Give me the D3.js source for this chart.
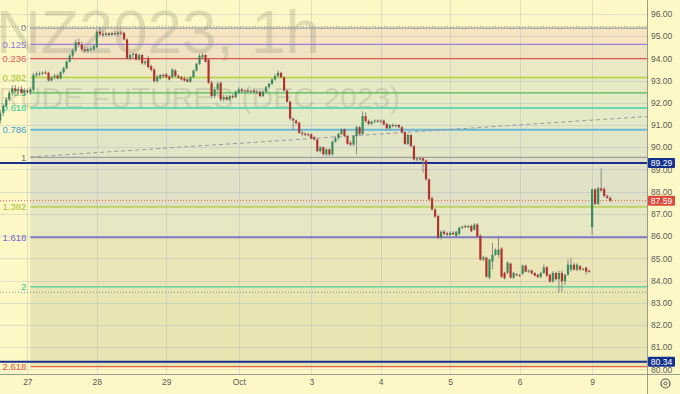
<!DOCTYPE html>
<html>
<head>
<meta charset="utf-8">
<script src="https://cdn.jsdelivr.net/npm/d3@7"></script>
<style>
  html, body { margin: 0; padding: 0; background: #fdf8c5; }
  svg { display: block; font-family: "Liberation Sans", Arial, sans-serif; }
</style>
</head>
<body>
<svg id="chart"></svg>
<script>
// hourly candles, [open, high, low, close], Sep 26 (tail) .. Oct 9
const bars = [
  [91.20,91.70,91.05,91.55],[91.55,91.95,91.40,91.85],[91.85,92.25,91.75,92.15],[92.15,92.55,92.05,92.45],
  [92.45,92.78,92.30,92.65],[92.65,92.80,92.45,92.55],[92.55,92.72,92.35,92.62],[92.62,92.75,92.40,92.45],
  [92.45,92.65,92.35,92.55],[92.55,92.65,92.40,92.48],[92.45,92.70,92.35,92.62],[92.58,93.35,92.50,93.25],
  [93.25,93.40,93.15,93.30],[93.30,93.40,93.20,93.32],[93.32,93.42,93.25,93.36],[93.36,93.45,93.28,93.33],
  [93.35,93.40,92.95,93.00],[93.00,93.20,92.95,93.15],[93.15,93.30,93.05,93.22],[93.22,93.30,93.05,93.10],
  [93.10,93.42,93.05,93.38],[93.38,93.62,93.30,93.56],[93.56,93.90,93.50,93.85],[93.85,94.20,93.80,94.12],
  [94.12,94.45,94.00,94.36],[94.36,94.85,94.30,94.72],[94.72,94.90,94.50,94.62],[94.62,94.75,94.30,94.40],
  [94.40,94.55,94.25,94.33],[94.33,94.50,94.25,94.42],[94.42,94.55,94.30,94.44],[94.40,94.60,94.35,94.55],
  [94.50,95.30,94.45,95.20],[95.20,95.42,95.00,95.10],[95.10,95.25,94.95,95.04],[95.04,95.20,95.00,95.12],
  [95.12,95.18,94.98,95.05],[95.05,95.20,95.00,95.14],[95.14,95.25,95.02,95.08],[95.08,95.22,95.00,95.16],
  [95.16,95.28,95.05,95.12],[95.15,95.20,94.80,94.85],[94.85,94.90,93.95,94.00],[94.00,94.20,93.90,94.15],
  [94.15,94.25,94.00,94.20],[94.20,94.25,93.90,93.95],[93.95,94.22,93.90,94.15],[94.15,94.20,93.72,93.78],
  [93.78,93.92,93.70,93.85],[94.00,94.10,93.55,93.60],[93.65,93.72,93.40,93.48],[93.50,93.55,92.90,92.97],
  [92.97,93.25,92.92,93.18],[93.10,93.30,93.05,93.25],[93.25,93.32,93.12,93.20],[93.28,93.35,93.10,93.15],
  [93.18,93.25,93.00,93.05],[93.15,93.55,93.10,93.50],[93.45,93.52,93.15,93.20],[93.20,93.28,93.08,93.12],
  [93.15,93.22,93.00,93.05],[93.10,93.18,92.95,93.00],[93.05,93.10,92.90,92.95],[92.95,93.20,92.90,93.15],
  [93.15,93.50,93.10,93.45],[93.45,93.80,93.40,93.75],[93.75,94.20,93.70,94.10],[94.05,94.25,93.95,94.15],
  [94.15,94.20,93.80,93.85],[93.95,94.00,92.85,92.90],[92.90,93.00,92.20,92.30],[92.30,92.70,92.20,92.60],
  [92.60,92.95,92.55,92.85],[92.90,92.95,92.05,92.15],[92.15,92.35,92.05,92.25],[92.25,92.35,92.10,92.15],
  [92.15,92.35,92.10,92.30],[92.30,92.40,92.18,92.25],[92.25,92.55,92.20,92.50],[92.45,92.70,92.40,92.60],
  [92.60,92.68,92.45,92.52],[92.52,92.62,92.42,92.55],[92.55,92.65,92.45,92.50],[92.50,92.60,92.40,92.55],
  [92.55,92.65,92.45,92.48],[92.48,92.58,92.40,92.50],[92.50,92.55,92.25,92.30],[92.30,92.55,92.25,92.50],
  [92.50,92.75,92.45,92.70],[92.70,92.90,92.62,92.85],[92.85,93.10,92.80,93.05],[93.05,93.30,93.00,93.20],
  [93.20,93.45,93.15,93.35],[93.35,93.40,93.10,93.15],[93.15,93.20,92.50,92.55],[92.55,92.60,92.00,92.05],
  [92.05,92.10,91.20,91.28],[91.28,91.35,90.80,91.20],[91.20,91.25,91.00,91.08],[91.10,91.15,90.60,90.65],
  [90.65,90.75,90.50,90.60],[90.60,90.68,90.50,90.58],[90.58,90.65,90.48,90.55],[90.58,90.62,90.35,90.40],
  [90.45,90.50,90.30,90.35],[90.35,90.40,89.78,89.82],[89.82,90.05,89.75,90.00],[90.00,90.05,89.62,89.68],
  [89.68,89.95,89.60,89.90],[89.90,89.95,89.60,89.68],[89.68,90.30,89.62,90.25],[90.25,90.50,90.20,90.40],
  [90.40,90.65,90.35,90.60],[90.60,90.85,90.55,90.80],[90.80,90.85,90.45,90.50],[90.50,90.55,90.10,90.15],
  [90.20,90.28,90.05,90.12],[90.12,90.55,90.05,90.50],[90.50,90.95,89.68,90.90],[90.90,90.95,90.55,90.60],
  [90.60,91.62,90.55,91.40],[91.40,91.58,91.10,91.18],[91.18,91.25,91.00,91.05],[91.05,91.20,91.00,91.15],
  [91.15,91.25,91.08,91.20],[91.20,91.25,91.10,91.15],[91.15,91.25,91.08,91.20],[91.20,91.25,90.98,91.03],
  [91.05,91.10,90.75,90.85],[90.85,91.05,90.80,91.00],[91.00,91.08,90.90,90.95],[90.95,91.05,90.88,91.00],
  [91.00,91.05,90.85,90.90],[90.90,90.95,90.62,90.68],[90.68,90.72,90.10,90.15],[90.15,90.62,90.10,90.55],
  [90.55,90.60,90.00,90.05],[90.05,90.10,89.40,89.45],[89.45,89.55,89.35,89.50],[89.50,89.55,89.38,89.45],
  [89.50,89.55,88.85,89.40],[89.40,89.45,88.50,88.55],[88.55,88.60,87.60,87.65],[87.70,87.78,87.15,87.20],
  [87.20,87.25,86.82,86.88],[86.90,86.95,85.85,85.93],[85.93,86.25,85.85,86.20],[86.20,86.28,86.05,86.10],
  [86.12,86.20,86.00,86.05],[86.05,86.22,86.00,86.15],[86.15,86.22,86.05,86.08],[86.00,86.24,85.96,86.20],
  [86.10,86.42,86.05,86.38],[86.38,86.48,86.32,86.42],[86.45,86.52,86.36,86.40],[86.40,86.50,86.35,86.46],
  [86.46,86.52,86.18,86.22],[86.29,86.58,86.25,86.52],[86.52,86.58,85.95,85.98],[86.02,86.08,84.90,84.94],
  [84.94,85.12,84.88,85.05],[85.03,85.08,84.12,84.17],[84.13,84.98,84.06,84.94],[84.85,85.70,84.49,85.16],
  [85.16,85.45,85.10,85.38],[85.16,86.02,85.05,85.39],[85.44,85.50,84.12,84.17],[84.35,84.40,84.04,84.10],
  [84.35,84.86,84.28,84.81],[84.76,84.82,84.08,84.13],[84.13,84.40,84.06,84.35],[84.28,84.34,84.20,84.25],
  [84.24,84.30,84.16,84.21],[84.30,84.72,84.25,84.67],[84.67,84.72,84.38,84.40],[84.42,84.50,84.35,84.45],
  [84.45,84.50,84.28,84.32],[84.34,84.38,84.18,84.22],[84.26,84.30,84.10,84.16],[84.16,84.40,84.10,84.34],
  [84.34,84.72,84.30,84.58],[84.60,84.65,84.15,84.22],[84.26,84.30,83.90,83.96],[83.96,84.42,83.90,84.34],
  [84.34,84.40,84.00,84.06],[84.06,84.45,83.46,84.34],[84.34,84.45,83.50,83.96],[83.96,84.30,83.80,84.26],
  [84.26,84.94,84.20,84.71],[84.49,85.03,84.40,84.71],[84.71,84.80,84.45,84.49],[84.49,84.78,84.42,84.71],
  [84.64,84.70,84.45,84.49],[84.52,84.58,84.45,84.52],[84.58,84.62,84.26,84.40],[84.44,84.50,84.34,84.40],
  [86.40,88.15,86.05,88.10],[88.10,88.15,87.40,87.45],[87.45,88.22,87.40,88.15],[88.15,89.05,87.98,88.05],
  [88.12,88.20,87.75,87.80],[87.80,87.88,87.68,87.72],[87.72,87.78,87.55,87.59]
];

// time axis: bar index where each day starts
const dayLabels = ["27", "28", "29", "Oct", "3", "4", "5", "6", "9"];
const dayBars = [9, 32, 55, 79, 103, 126, 149, 172, 196];

// price axis
const priceTicks = d3.range(80, 97, 1);

// fibonacci retracement
const fibLevels = [0, 0.125, 0.236, 0.382, 0.5, 0.618, 0.786, 1, 1.382, 1.618, 2, 2.618];
const fibLabels = ["0", "0.125", "0.236", "0.382", "0.5", "0.618", "0.786", "1", "1.382", "1.618", "2", "2.618"];
const fibLineColors = ["#9e9e9e", "#9c7fd6", "#d9534f", "#b8d03a", "#4cbb5a", "#66d9b0", "#6ab7d8", "#a0a0a0", "#a8c83a", "#7e7cc4", "#66d49a", "#e0604c"];
const fibTextColors = ["#888888", "#8f78d6", "#e05a4f", "#a3c02a", "#43b04f", "#2fcf9a", "#3c9fd6", "#777777", "#a3c02a", "#6c6cd0", "#2ec98a", "#e8504a"];
const fibBandColors = ["#f7e5c1", "#efe3c1", "#ebe8c3", "#e5eac3", "#e3eac4", "#e4eac6", "#e2e6c7", "#e0e1c6", "#e5e8c2", "#ebe5b7", "#e8e5b3"];
const fibStart = [10, 95.36, 89.54]; // bar index, price at 0, price at 1

// other drawings
const markedLevels = [89.29, 80.34];   // navy horizontal lines
const dottedLevels = [95.42, 83.47];   // gray dotted horizontal lines
const lastPrice = 87.59;
const trendLine = [[10, 89.56], [214, 91.38]];

const W = 680, H = 394;
const paneR = 647, paneB = 374;

const svg = d3.select("#chart").attr("width", W).attr("height", H);

const x = d3.scaleLinear().domain([0, 214]).range([0.2, 0.2 + 3.02 * 214]);
const y = d3.scaleLinear().domain([80, 96]).range([369.4, 13.9]);

svg.append("rect").attr("width", W).attr("height", H).attr("fill", "#fdf8c5");

svg.append("clipPath").attr("id", "pane")
  .append("rect").attr("width", paneR).attr("height", paneB);

const pane = svg.append("g").attr("clip-path", "url(#pane)");

// fib bands
const fibPrice = l => fibStart[1] - l * (fibStart[1] - fibStart[2]);
const fx0 = x(fibStart[0]);
pane.selectAll("rect.band")
  .data(fibBandColors)
  .join("rect")
  .attr("x", fx0)
  .attr("width", paneR - fx0)
  .attr("y", (d, i) => y(fibPrice(fibLevels[i])))
  .attr("height", (d, i) => y(fibPrice(fibLevels[i + 1])) - y(fibPrice(fibLevels[i])))
  .attr("fill", d => d);

// grid
pane.selectAll("line.hgrid")
  .data(priceTicks)
  .join("line")
  .attr("x1", 0).attr("x2", paneR)
  .attr("y1", d => Math.round(y(d)) + 0.5).attr("y2", d => Math.round(y(d)) + 0.5)
  .attr("stroke", "#9aa6c0").attr("stroke-opacity", 0.3);
pane.selectAll("line.vgrid")
  .data(dayBars)
  .join("line")
  .attr("x1", d => Math.round(x(d)) + 0.5).attr("x2", d => Math.round(x(d)) + 0.5)
  .attr("y1", 0).attr("y2", paneB)
  .attr("stroke", "#9aa6c0").attr("stroke-opacity", 0.3);

// watermark
pane.append("text")
  .attr("x", 320).attr("y", 53)
  .attr("text-anchor", "end")
  .attr("font-size", 62)
  .attr("fill", "#6e6e60").attr("fill-opacity", 0.2)
  .text("BRNZ2023, 1h");
pane.append("text")
  .attr("x", 400).attr("y", 108)
  .attr("text-anchor", "end")
  .attr("font-size", 30)
  .attr("fill", "#6e6e60").attr("fill-opacity", 0.2)
  .text("BRENT CRUDE FUTURES (DEC 2023)");

// fib lines + labels
pane.selectAll("line.fib")
  .data(fibLevels)
  .join("line")
  .attr("x1", fx0).attr("x2", paneR)
  .attr("y1", d => y(fibPrice(d))).attr("y2", d => y(fibPrice(d)))
  .attr("stroke", (d, i) => fibLineColors[i])
  .attr("stroke-width", d => (d === 0.618 || d === 0.786 || d === 1.618) ? 2 : 1.3);
pane.selectAll("text.fib")
  .data(fibLevels)
  .join("text")
  .attr("x", fx0 - 4)
  .attr("y", d => y(fibPrice(d)))
  .attr("dy", "0.35em")
  .attr("text-anchor", "end")
  .attr("font-size", 9.5)
  .attr("fill", (d, i) => fibTextColors[i])
  .text((d, i) => fibLabels[i]);

// dotted / marked horizontal lines
pane.selectAll("line.dot")
  .data(dottedLevels)
  .join("line")
  .attr("x1", 0).attr("x2", paneR)
  .attr("y1", d => y(d)).attr("y2", d => y(d))
  .attr("stroke", "#8e8e8e").attr("stroke-dasharray", "1,2");

pane.append("line")
  .attr("x1", fx0).attr("x2", paneR)
  .attr("y1", y(trendLine[0][1])).attr("y2", y(trendLine[0][1]) + (y(trendLine[1][1]) - y(trendLine[0][1])) * (paneR - fx0) / (x(trendLine[1][0]) - fx0))
  .attr("stroke", "#9a9a9a").attr("stroke-dasharray", "4,3");

pane.selectAll("line.mark")
  .data(markedLevels)
  .join("line")
  .attr("x1", 0).attr("x2", paneR)
  .attr("y1", d => y(d)).attr("y2", d => y(d))
  .attr("stroke", "#1a2f8f").attr("stroke-width", 2);

pane.append("line")
  .attr("x1", 0).attr("x2", paneR)
  .attr("y1", y(lastPrice)).attr("y2", y(lastPrice))
  .attr("stroke", "#e0584a").attr("stroke-dasharray", "1,2");

// candles
const candle = pane.selectAll("g.candle")
  .data(bars)
  .join("g");
candle.append("line")
  .attr("x1", (d, i) => x(i)).attr("x2", (d, i) => x(i))
  .attr("y1", d => y(d[1])).attr("y2", d => y(d[2]))
  .attr("stroke", "#8a8a8a").attr("stroke-width", 1);
candle.append("rect")
  .attr("x", (d, i) => x(i) - 1.1)
  .attr("width", 2.2)
  .attr("y", d => y(Math.max(d[0], d[3])))
  .attr("height", d => Math.max(1, Math.abs(y(d[0]) - y(d[3]))))
  .attr("fill", d => d[3] >= d[0] ? "#3a8c5e" : "#b3322c");

// axes frame
svg.append("line").attr("x1", paneR + 0.5).attr("x2", paneR + 0.5).attr("y1", 0).attr("y2", H)
  .attr("stroke", "#9a9a90");
svg.append("line").attr("x1", 0).attr("x2", W).attr("y1", paneB + 0.5).attr("y2", paneB + 0.5)
  .attr("stroke", "#9a9a90");

// price axis
const yAxis = svg.append("g")
  .attr("transform", `translate(${paneR + 4},0)`)
  .call(d3.axisRight(y).tickValues(priceTicks).tickFormat(d3.format(".2f")).tickSize(0).tickPadding(0));
yAxis.select(".domain").remove();
yAxis.selectAll("text").attr("font-size", 8.5).attr("fill", "#5a5a5a")
  .attr("font-family", "\"Liberation Sans\", Arial, sans-serif");

// time axis
const xAxis = svg.append("g")
  .attr("transform", `translate(0,${paneB + 5})`)
  .call(d3.axisBottom(x).tickValues(dayBars).tickFormat((d, i) => dayLabels[i]).tickSize(0).tickPadding(0));
xAxis.select(".domain").remove();
xAxis.selectAll("text").attr("font-size", 8.5).attr("fill", "#5a5a5a")
  .attr("font-family", "\"Liberation Sans\", Arial, sans-serif");

// price badges
const badges = [[89.29, "#13318f"], [80.34, "#13318f"], [lastPrice, "#dc4a3c"]];
badges.forEach(b => {
  const yy = y(b[0]);
  svg.append("rect").attr("x", paneR + 1).attr("y", yy - 5).attr("width", 27).attr("height", 10)
    .attr("rx", 1).attr("fill", b[1]);
  svg.append("text").attr("x", paneR + 14.5).attr("y", yy).attr("dy", "0.35em")
    .attr("text-anchor", "middle").attr("font-size", 8.5).attr("fill", "#ffffff")
    .text(b[0].toFixed(2));
});

// settings icon
svg.append("circle").attr("cx", 665.5).attr("cy", 383.5).attr("r", 4.5)
  .attr("fill", "none").attr("stroke", "#555").attr("stroke-width", 1.2);
svg.append("circle").attr("cx", 665.5).attr("cy", 383.5).attr("r", 1.6)
  .attr("fill", "none").attr("stroke", "#555").attr("stroke-width", 1);
</script>
</body>
</html>
